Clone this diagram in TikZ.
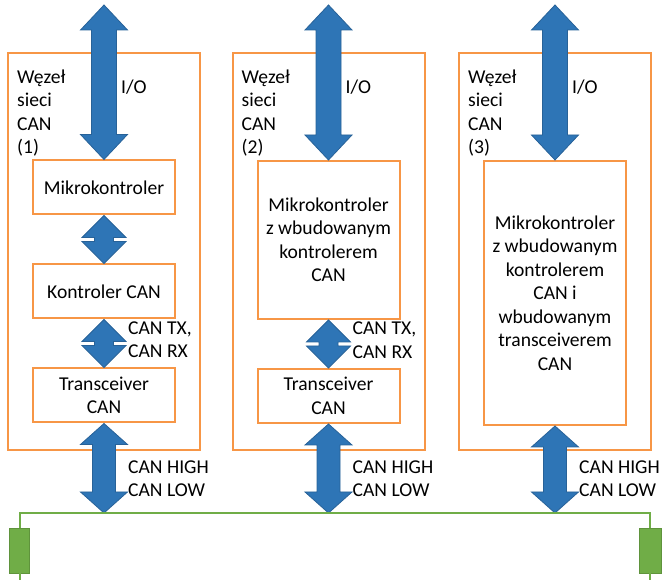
\documentclass[tikz,border=0pt]{standalone}
\usepackage{fontspec}
\setmainfont{Carlito}
\usetikzlibrary{calc, positioning}
\definecolor{nodeorange}{RGB}{247,150,70}
\definecolor{arrowblue}{RGB}{46,117,182}
\definecolor{arrowedge}{RGB}{40,98,152}
\definecolor{busgreen}{RGB}{112,173,71}

% two-headed block arrow: top, bottom, half shaft, half head, head length
\newcommand{\dblarrow}[5]{%
  \filldraw[blockarrow] (#1) -- ($(#1)+(#4,-#5)$) -- ($(#1)+(#3,-#5)$)
    -- ($(#2)+(#3,#5)$) -- ($(#2)+(#4,#5)$) -- (#2)
    -- ($(#2)+(-#4,#5)$) -- ($(#2)+(-#3,#5)$)
    -- ($(#1)+(-#3,-#5)$) -- ($(#1)+(-#4,-#5)$) -- cycle;}

\begin{document}
\begin{tikzpicture}[x=1pt, y=1pt, font=\fontsize{19.6}{23.5}\selectfont,
  nodebox/.style={draw=nodeorange, line width=2pt, minimum width=192pt,
    inner sep=0pt},
  unitbox/.style={draw=nodeorange, line width=2pt, minimum width=142pt,
    align=center, inner sep=0pt},
  sidelabel/.style={anchor=west, align=left, inner sep=0pt},
  blockarrow/.style={fill=arrowblue, draw=arrowedge, line width=0.8pt,
    line join=miter},
  busline/.style={draw=busgreen, line width=2pt},
  resistor/.style={fill=busgreen, draw=busgreen!85!black, line width=0.6pt,
    minimum width=20pt, minimum height=45pt, inner sep=0pt}]
\useasboundingbox (0,0) rectangle (662,580);
% frames of the three CAN nodes
\foreach \n/\x in {1/104, 2/328.5, 3/555}{
  \node[nodebox, minimum height=397pt] (box\n) at (\x,328.5) {};
  \node[sidelabel] (name\n) at ($(box\n.north west)+(10,-61)$)
    {Węzeł\\sieci\\CAN\\(\n)};
  \coordinate (io\n) at (\x,575);
  \coordinate (tap\n) at (\x,67);
}
% node 1
\node[unitbox, minimum height=54pt] (mk1) at (104,392.5) {Mikrokontroler};
\node[unitbox, minimum height=54pt, below=48pt of mk1] (kc1) {Kontroler CAN};
\node[unitbox, minimum height=54pt, below=48pt of kc1] (tr1)
  {Transceiver\\CAN};
% node 2
\node[unitbox, minimum height=158pt] (mk2) at (328.5,340)
  {Mikrokontroler\\z wbudowanym\\kontrolerem\\CAN};
\node[unitbox, minimum height=54pt, below=48pt of mk2] (tr2)
  {Transceiver\\CAN};
% node 3
\node[unitbox, minimum height=264pt] (mk3) at (555,287)
  {Mikrokontroler\\z wbudowanym\\kontrolerem\\CAN i\\wbudowanym\\transceiverem\\CAN};
% arrows
\foreach \n in {1,2,3}{
  \dblarrow{io\n}{mk\n.north}{12.5}{23.5}{25}
  \node[sidelabel] (iolbl\n) at ($(io\n)+(17,-82)$) {I/O};
  \node[sidelabel] (buslbl\n) at ($(tap\n)+(24,34.5)$) {CAN HIGH\\CAN LOW};
}
\dblarrow{mk1.south}{kc1.north}{9.5}{22}{22}
\dblarrow{kc1.south}{tr1.north}{9.5}{22}{22}
\dblarrow{mk2.south}{tr2.north}{9.5}{22}{22}
\node[sidelabel] (txrx1) at ($(kc1.south)+(24,-20)$) {CAN TX,\\CAN RX};
\node[sidelabel] (txrx2) at ($(mk2.south)+(24,-20)$) {CAN TX,\\CAN RX};
\dblarrow{tr1.south}{tap1}{11.5}{23.5}{21}
\dblarrow{tr2.south}{tap2}{11.5}{23.5}{21}
\dblarrow{mk3.south}{tap3}{11.5}{23.5}{21}
% bus with terminators
\node[resistor] (rleft) at (19.5,29.5) {};
\node[resistor, minimum width=22pt] (rright) at (650,29.5) {};
\draw[busline] (rleft.north) -- ++(0,15) -| (rright.north);
\draw[busline] (rleft.south) -- ++(0,-10);
\draw[busline] (rright.south) -- ++(0,-10);
\end{tikzpicture}
\end{document}
